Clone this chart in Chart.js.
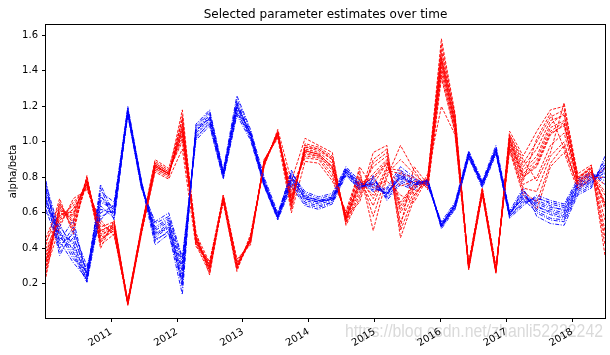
<!DOCTYPE html>
<html><head><meta charset="utf-8">
<script src="https://cdn.jsdelivr.net/npm/chart.js@4.4.0/dist/chart.umd.min.js"></script>
<style>html,body{margin:0;padding:0;background:#fff;}#wrap{width:610px;height:355px;}</style>
</head><body><div id="wrap"><canvas id="c" width="610" height="355"></canvas></div>
<script>
const chartTitle = 'Selected parameter estimates over time';
const yLabel = 'alpha/beta';
const watermark = 'https://blog.csdn.net/zhanli52222242';
const times = [2010.010,2010.217,2010.424,2010.631,2010.838,2011.045,2011.252,2011.459,2011.666,2011.873,2012.080,2012.287,2012.494,2012.701,2012.908,2013.115,2013.322,2013.529,2013.736,2013.943,2014.150,2014.357,2014.564,2014.771,2014.978,2015.185,2015.392,2015.599,2015.806,2016.013,2016.220,2016.427,2016.634,2016.841,2017.048,2017.255,2017.462,2017.669,2017.876,2018.083,2018.290,2018.497];
const yearTicks = [2011,2012,2013,2014,2015,2016,2017,2018];
const yTicks = [0.2,0.4,0.6,0.8,1.0,1.2,1.4,1.6];

const alpha1 = [0.72,0.46,0.40,0.22,0.66,0.62,1.18,0.77,0.46,0.52,0.24,1.07,1.15,0.82,1.21,1.05,0.78,0.58,0.81,0.68,0.66,0.68,0.84,0.75,0.76,0.70,0.81,0.77,0.78,0.53,0.64,0.94,0.76,0.96,0.59,0.70,0.64,0.60,0.58,0.74,0.78,0.85];
const alpha2 = [0.66,0.42,0.48,0.24,0.70,0.58,1.16,0.75,0.50,0.55,0.30,1.04,1.12,0.81,1.18,1.03,0.76,0.57,0.78,0.67,0.65,0.67,0.83,0.74,0.78,0.72,0.79,0.76,0.77,0.52,0.63,0.92,0.75,0.94,0.58,0.67,0.66,0.63,0.62,0.76,0.80,0.82];
const alpha3 = [0.76,0.50,0.36,0.21,0.60,0.64,1.19,0.78,0.44,0.50,0.20,1.09,1.17,0.83,1.24,1.06,0.79,0.59,0.83,0.70,0.67,0.69,0.85,0.77,0.74,0.71,0.83,0.78,0.76,0.54,0.65,0.93,0.77,0.97,0.60,0.72,0.61,0.57,0.56,0.72,0.76,0.88];
const alpha4 = [0.62,0.40,0.52,0.26,0.72,0.66,1.15,0.74,0.52,0.57,0.32,1.03,1.10,0.80,1.17,1.02,0.75,0.57,0.76,0.66,0.64,0.66,0.82,0.73,0.79,0.69,0.78,0.75,0.79,0.53,0.62,0.91,0.76,0.95,0.58,0.66,0.68,0.66,0.64,0.77,0.81,0.80];
const alpha5 = [0.74,0.48,0.44,0.22,0.62,0.60,1.17,0.76,0.47,0.53,0.18,1.08,1.16,0.82,1.22,1.04,0.77,0.58,0.84,0.69,0.67,0.68,0.84,0.76,0.75,0.70,0.82,0.77,0.78,0.52,0.64,0.94,0.77,0.96,0.59,0.71,0.62,0.59,0.57,0.73,0.77,0.86];
const alpha6 = [0.68,0.44,0.32,0.23,0.67,0.63,1.18,0.77,0.49,0.51,0.27,1.05,1.13,0.81,1.19,1.05,0.77,0.58,0.79,0.68,0.66,0.69,0.83,0.75,0.77,0.71,0.80,0.76,0.77,0.53,0.65,0.93,0.76,0.95,0.59,0.69,0.65,0.62,0.60,0.75,0.79,0.84];
const alpha7 = [0.78,0.38,0.46,0.28,0.58,0.61,1.16,0.76,0.42,0.48,0.22,1.06,1.14,0.83,1.20,1.03,0.78,0.59,0.80,0.71,0.68,0.70,0.85,0.76,0.73,0.73,0.84,0.79,0.76,0.54,0.64,0.92,0.75,0.94,0.60,0.68,0.60,0.56,0.55,0.71,0.75,0.90];
const alpha8 = [0.64,0.52,0.42,0.25,0.74,0.56,1.17,0.75,0.54,0.58,0.34,1.02,1.11,0.80,1.16,1.04,0.76,0.57,0.77,0.65,0.63,0.66,0.82,0.74,0.80,0.68,0.77,0.74,0.78,0.52,0.63,0.93,0.77,0.95,0.58,0.65,0.69,0.65,0.63,0.78,0.82,0.78];
const alpha9 = [0.70,0.36,0.50,0.30,0.56,0.65,1.20,0.78,0.45,0.49,0.14,1.10,1.18,0.84,1.26,1.07,0.80,0.60,0.82,0.72,0.69,0.71,0.86,0.78,0.72,0.74,0.86,0.80,0.75,0.55,0.66,0.95,0.78,0.98,0.61,0.74,0.58,0.54,0.53,0.70,0.74,0.92];
const alpha10 = [0.60,0.54,0.38,0.21,0.76,0.59,1.15,0.74,0.55,0.60,0.35,1.01,1.09,0.79,1.15,1.01,0.75,0.56,0.75,0.64,0.62,0.65,0.81,0.73,0.81,0.67,0.76,0.73,0.79,0.51,0.62,0.91,0.74,0.93,0.57,0.64,0.70,0.67,0.65,0.79,0.83,0.76];
const alpha11 = [0.73,0.44,0.56,0.24,0.64,0.57,1.18,0.77,0.48,0.54,0.28,1.06,1.14,0.82,1.20,1.05,0.77,0.58,0.80,0.68,0.66,0.68,0.83,0.75,0.77,0.70,0.80,0.77,0.77,0.53,0.64,0.93,0.76,0.95,0.59,0.73,0.63,0.61,0.59,0.74,0.79,0.87];
const alpha12 = [0.67,0.48,0.34,0.27,0.69,0.63,1.17,0.76,0.51,0.56,0.21,1.07,1.13,0.81,1.22,1.04,0.76,0.57,0.79,0.69,0.67,0.67,0.84,0.76,0.76,0.71,0.81,0.76,0.78,0.53,0.65,0.94,0.77,0.96,0.60,0.68,0.67,0.64,0.61,0.76,0.77,0.83];

const beta1 = [0.30,0.62,0.55,0.78,0.46,0.50,0.09,0.50,0.86,0.82,1.08,0.44,0.30,0.68,0.29,0.45,0.88,1.05,0.66,0.96,0.94,0.88,0.56,0.74,0.82,0.90,0.60,0.74,0.78,1.48,1.12,0.29,0.72,0.27,1.02,0.82,0.90,1.08,1.12,0.78,0.84,0.62];
const beta2 = [0.40,0.56,0.62,0.75,0.50,0.54,0.10,0.51,0.88,0.83,1.04,0.46,0.28,0.69,0.31,0.44,0.89,1.04,0.70,0.93,0.92,0.84,0.58,0.78,0.70,0.86,0.75,0.78,0.76,1.42,1.08,0.30,0.73,0.28,0.98,0.76,0.80,0.98,1.05,0.76,0.82,0.72];
const beta3 = [0.26,0.66,0.50,0.80,0.42,0.48,0.08,0.49,0.84,0.80,1.15,0.42,0.26,0.67,0.28,0.47,0.87,1.06,0.62,0.99,0.97,0.92,0.54,0.70,0.88,0.94,0.50,0.70,0.80,1.55,1.15,0.28,0.71,0.26,1.04,0.88,1.00,1.14,1.18,0.80,0.86,0.50];
const beta4 = [0.44,0.58,0.64,0.76,0.52,0.55,0.10,0.52,0.89,0.84,1.00,0.48,0.32,0.70,0.33,0.43,0.90,1.03,0.72,0.91,0.90,0.80,0.60,0.80,0.68,0.84,0.82,0.80,0.74,1.38,1.06,0.31,0.74,0.29,0.96,0.74,0.72,0.92,1.00,0.74,0.80,0.80];
const beta5 = [0.34,0.60,0.58,0.79,0.48,0.51,0.09,0.50,0.85,0.81,1.10,0.45,0.29,0.68,0.30,0.46,0.88,1.05,0.68,0.95,0.93,0.86,0.57,0.76,0.76,0.88,0.66,0.76,0.79,1.46,1.10,0.30,0.72,0.28,1.00,0.80,0.86,1.04,1.10,0.78,0.83,0.66];
const beta6 = [0.24,0.64,0.52,0.77,0.44,0.53,0.09,0.49,0.87,0.82,1.18,0.43,0.31,0.67,0.29,0.44,0.87,1.04,0.64,0.97,0.95,0.90,0.55,0.72,0.86,0.92,0.55,0.72,0.77,1.52,1.13,0.29,0.71,0.27,1.03,0.86,0.96,1.12,1.15,0.79,0.85,0.42];
const beta7 = [0.38,0.54,0.66,0.74,0.54,0.49,0.10,0.51,0.88,0.83,1.02,0.47,0.27,0.69,0.32,0.45,0.89,1.03,0.74,0.92,0.91,0.82,0.59,0.82,0.58,0.82,0.90,0.82,0.75,1.40,1.07,0.31,0.73,0.28,0.97,0.72,0.66,0.88,0.98,0.75,0.81,0.76];
const beta8 = [0.32,0.61,0.60,0.78,0.47,0.52,0.09,0.50,0.86,0.82,1.06,0.45,0.30,0.68,0.30,0.45,0.88,1.05,0.67,0.95,0.93,0.86,0.57,0.75,0.80,0.89,0.62,0.75,0.78,1.45,1.11,0.30,0.72,0.27,1.01,0.81,0.88,1.06,1.11,0.77,0.83,0.64];
const beta9 = [0.42,0.68,0.48,0.81,0.40,0.56,0.08,0.48,0.83,0.79,0.96,0.41,0.33,0.66,0.27,0.48,0.86,1.07,0.78,1.02,0.98,0.94,0.53,0.68,0.94,0.98,0.46,0.68,0.82,1.20,1.04,0.28,0.70,0.26,1.06,0.92,1.06,1.18,1.20,0.82,0.87,0.36];
const beta10 = [0.28,0.52,0.68,0.73,0.56,0.47,0.11,0.52,0.90,0.85,1.12,0.49,0.25,0.70,0.34,0.42,0.90,1.02,0.60,0.89,0.88,0.78,0.61,0.84,0.50,0.80,0.98,0.84,0.73,1.36,1.05,0.32,0.74,0.30,0.95,0.70,0.62,0.86,0.94,0.73,0.79,0.85];
const beta11 = [0.36,0.63,0.56,0.80,0.45,0.50,0.09,0.50,0.87,0.82,1.09,0.44,0.29,0.68,0.29,0.46,0.88,1.05,0.65,0.97,0.96,0.90,0.56,0.86,0.74,0.78,0.70,0.66,0.80,1.50,1.14,0.29,0.72,0.27,1.02,0.84,0.92,1.10,1.16,0.80,0.85,0.56];
const beta12 = [0.30,0.57,0.62,0.76,0.50,0.53,0.10,0.51,0.87,0.82,1.05,0.46,0.31,0.69,0.31,0.44,0.89,1.04,0.69,0.94,0.92,0.85,0.58,0.66,0.90,0.96,0.52,0.86,0.76,1.43,1.09,0.30,0.73,0.28,0.99,0.78,1.02,1.16,0.96,0.76,0.82,0.70];
const beta13 = [0.46,0.65,0.54,0.77,0.43,0.54,0.09,0.49,0.85,0.81,1.13,0.43,0.28,0.67,0.30,0.45,0.87,1.06,0.63,0.98,0.96,0.91,0.55,0.79,0.64,0.85,0.84,0.70,0.79,1.58,1.16,0.29,0.71,0.27,1.04,0.90,0.78,0.94,1.22,0.79,0.86,0.46];
const beta14 = [0.33,0.59,0.59,0.78,0.49,0.52,0.09,0.50,0.86,0.82,1.07,0.45,0.30,0.68,0.30,0.45,0.88,1.05,0.67,0.95,0.93,0.86,0.57,0.77,0.79,0.88,0.64,0.76,0.78,1.47,1.10,0.30,0.72,0.28,1.01,0.80,0.87,1.05,1.09,0.77,0.83,0.65];

const alphaSeries = [alpha1,alpha2,alpha3,alpha4,alpha5,alpha6,alpha7,alpha8,alpha9,alpha10,alpha11,alpha12];
const betaSeries = [beta1,beta2,beta3,beta4,beta5,beta6,beta7,beta8,beta9,beta10,beta11,beta12,beta13,beta14];

const toPts = arr => arr.map((v,i) => ({x: times[i], y: v}));
const datasets = [];
const n = Math.max(alphaSeries.length, betaSeries.length);
for (let k = 0; k < n; k++) {
  if (alphaSeries[k]) datasets.push({data: toPts(alphaSeries[k]), borderColor: '#0000ff', borderWidth: 0.9, borderDash: [4,1.5,1,1.5], pointRadius: 0, tension: 0, fill: false});
  if (betaSeries[k]) datasets.push({data: toPts(betaSeries[k]), borderColor: '#ff0000', borderWidth: 0.9, borderDash: [3,1.5], pointRadius: 0, tension: 0, fill: false});
}

const font = 'DejaVu Sans';
const frame = {
  id: 'frame',
  beforeDraw(chart) {
    const ctx = chart.ctx;
    ctx.save();
    ctx.fillStyle = '#fff';
    ctx.fillRect(0,0,chart.width,chart.height);
    ctx.font = '18px "Liberation Sans"';
    ctx.fillStyle = '#dadada';
    ctx.textAlign = 'left';
    ctx.textBaseline = 'alphabetic';
    ctx.fillText(watermark, 345, 337, 258);
    ctx.restore();
  },
  afterDraw(chart) {
    const {ctx, chartArea: a} = chart;
    ctx.save();
    ctx.strokeStyle = '#000';
    ctx.lineWidth = 1;
    ctx.strokeRect(a.left - 0.5, a.top - 0.5, a.right - a.left + 1, a.bottom - a.top + 1);
    ctx.fillStyle = '#000';
    ctx.font = '12px "' + font + '"';
    ctx.textAlign = 'center';
    ctx.textBaseline = 'middle';
    ctx.fillText(chartTitle, (a.left + a.right) / 2, 15);
    ctx.restore();
  }
};

new Chart(document.getElementById('c'), {
  type: 'line',
  data: {datasets},
  plugins: [frame],
  options: {
    responsive: false, animation: false, devicePixelRatio: 1,
    layout: {padding: {left: 0, right: 5, top: 25, bottom: 0}},
    plugins: {legend: {display: false}, tooltip: {enabled: false}, title: {display: false}},
    scales: {
      x: {
        type: 'linear', min: times[0], max: times[times.length - 1],
        afterBuildTicks: s => { s.ticks = yearTicks.map(v => ({value: v})); },
        afterFit: s => { s.height = 37; },
        ticks: {autoSkip: false, maxRotation: 30, minRotation: 30, padding: 4, color: '#000', font: {family: font, size: 10}, callback: v => String(v)},
        grid: {display: true, drawOnChartArea: false, drawTicks: true, tickLength: 4, color: '#000', lineWidth: 1},
        border: {display: false}
      },
      y: {
        min: 0.008, max: 1.658,
        afterBuildTicks: s => { s.ticks = yTicks.map(v => ({value: v})); },
        afterFit: s => { s.width = 46; },
        ticks: {padding: 4, color: '#000', font: {family: font, size: 10}, callback: v => Number(v).toFixed(1)},
        grid: {display: true, drawOnChartArea: false, drawTicks: true, tickLength: 4, color: '#000', lineWidth: 1},
        border: {display: false},
        title: {display: true, text: yLabel, color: '#000', font: {family: font, size: 10}, padding: {top: 7, bottom: 0}}
      }
    }
  }
});
</script></body></html>
